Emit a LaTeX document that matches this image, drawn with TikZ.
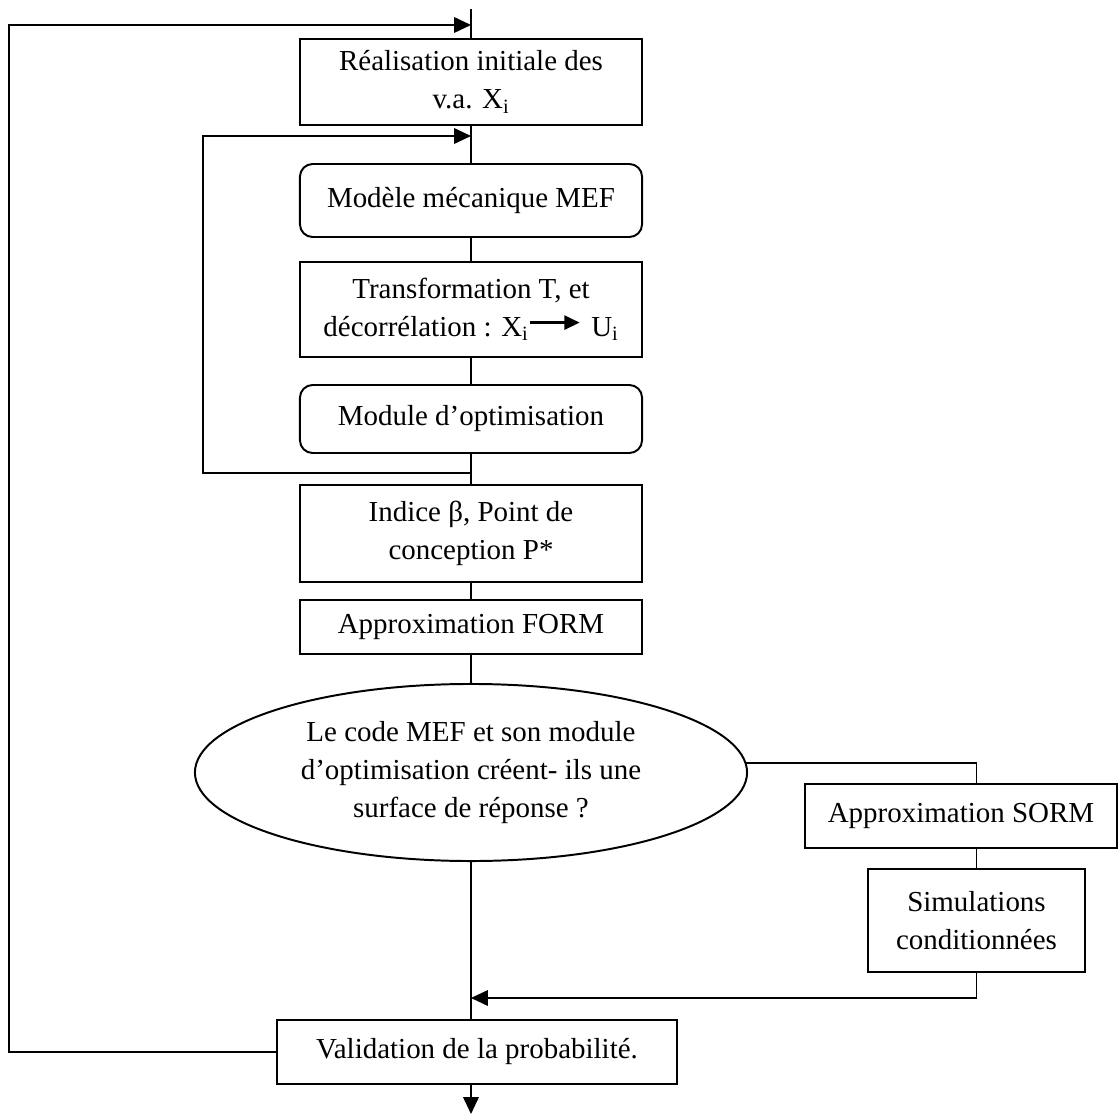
\documentclass[tikz,border=0pt]{standalone}
\usepackage{fontspec}
\setmainfont{Liberation Serif}
\usetikzlibrary{shapes.geometric,arrows.meta}

\newcommand{\tfarrow}{\tikz[baseline]\draw[line width=2pt,-{Triangle[length=11pt,width=10pt]}] (0,0.48em) -- (1.72em,0.48em);}

\tikzset{
  box/.style={draw, line width=1.4pt, minimum width=8.55cm, inner sep=0pt, align=center,
    font=\fontsize{20.6}{27}\selectfont},
  rbox/.style={box, rounded corners=9pt},
  arr/.style={-{Triangle[length=12pt,width=11pt]}}
}

\begin{document}
\begin{tikzpicture}[x=0.025cm, y=-0.025cm, line width=1.4pt]
  \useasboundingbox (0,0) rectangle (1118,1115);

  % main column
  \node[box, minimum height=2.15cm] (init) at (471,82) {Réalisation initiale des\\v.a. X\textsubscript{i}};
  \node[rbox, minimum height=1.825cm] (mef) at (471,200.5) {Modèle mécanique MEF};
  \node[box, minimum height=2.375cm] (transf) at (471,309.5) {Transformation T, et\\décorrélation : X\textsubscript{i}\tfarrow\hspace{0.35em}U\textsubscript{i}};
  \node[rbox, minimum height=1.7cm] (optim) at (471,419) {Module d’optimisation};
  \node[box, minimum height=2.425cm] (indice) at (471,533.5) {Indice β, Point de\\conception P*};
  \node[box, minimum height=1.35cm] (form) at (471,627) {Approximation FORM};
  \node[box, ellipse, minimum width=13.8cm, minimum height=4.425cm] (dec) at (471,772.5)
    {Le code MEF et son module\\d’optimisation créent- ils une\\surface de réponse ?};
  \node[box, minimum width=10cm, minimum height=1.6cm] (valid) at (477,1052) {Validation de la probabilité.};

  % right branch
  \node[box, minimum width=7.8cm, minimum height=1.6cm] (sorm) at (961,816) {Approximation SORM};
  \node[box, minimum width=5.425cm, minimum height=2.575cm] (simul) at (976.5,920.5) {Simulations\\conditionnées};

  % free ends
  \coordinate (top) at (471,9);
  \coordinate (in1) at (471,25);
  \coordinate (lft) at (9,25);
  \coordinate (in2) at (471,136);
  \coordinate (ilft) at (203,136);
  \coordinate (jn) at (471,473);
  \coordinate (mrg) at (471,998);
  \coordinate (bot) at (471,1114);

  % connectors
  \draw (top) -- (init.north);
  \draw (init.south) -- (mef.north);
  \draw (mef.south) -- (transf.north);
  \draw (transf.south) -- (optim.north);
  \draw (optim.south) -- (indice.north);
  \draw (indice.south) -- (form.north);
  \draw (form.south) -- (dec.north);
  \draw (dec.south) -- (valid.north -| dec.south);
  \draw[arr] (valid.south -| bot) -- (bot);

  % loops
  \draw[arr] (jn) -| (ilft) -- (in2);
  \draw[arr] (valid.west) -| (lft) -- (in1);

  % SORM branch
  \draw (dec.2) -| (sorm.north -| simul.north);
  \draw (sorm.south -| simul.north) -- (simul.north);
  \draw[arr] (simul.south) |- (mrg);
\end{tikzpicture}
\end{document}
